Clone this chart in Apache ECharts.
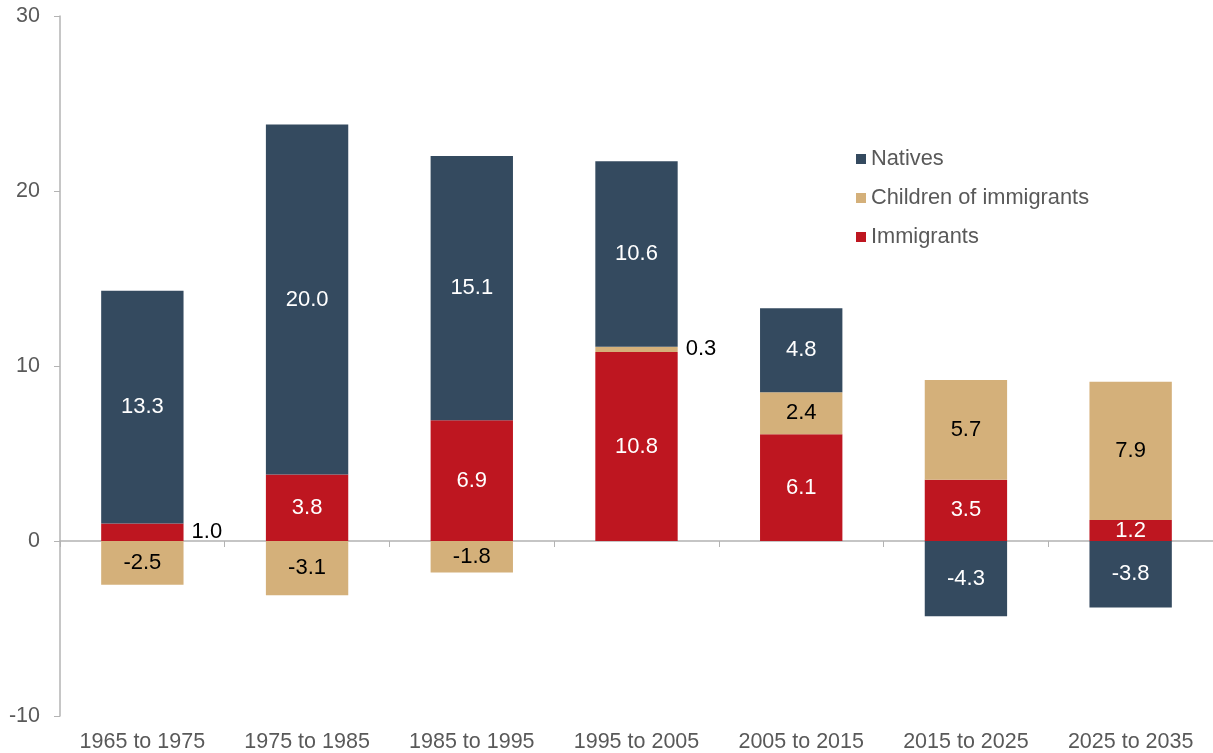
<!DOCTYPE html>
<html>
<head>
<meta charset="utf-8">
<script src="https://cdn.jsdelivr.net/npm/echarts@6/dist/echarts.min.js"></script>
<style>
  html, body { margin: 0; padding: 0; background: #fff; }
  #chart { width: 1213px; height: 753px; }
</style>
</head>
<body>
<div id="chart"></div>
<script>
var categories = ['1965 to 1975', '1975 to 1985', '1985 to 1995', '1995 to 2005', '2005 to 2015', '2015 to 2025', '2025 to 2035'];
var natives = [13.3, 20.0, 15.1, 10.6, 4.8, -4.3, -3.8];
var children = [-2.5, -3.1, -1.8, 0.3, 2.4, 5.7, 7.9];
var immigrants = [1.0, 3.8, 6.9, 10.8, 6.1, 3.5, 1.2];
var yTicks = [-10, 0, 10, 20, 30];

var font = 'Liberation Sans, Arial, sans-serif';
var axisGray = '#b3b3b3';
var textGray = '#595959';

// small segments get their label outside to the right
function withLabels(values, color) {
  return values.map(function (v) {
    if (Math.abs(v) < 1.1 && v !== 1.2) {
      return { value: v, label: { position: 'right', color: '#000', distance: 8 } };
    }
    return { value: v, label: { color: color } };
  });
}

function bar(name, values, fill, labelColor) {
  return {
    name: name,
    type: 'bar',
    stack: 'total',
    barWidth: '50%',
    itemStyle: { color: fill },
    label: {
      show: true,
      position: 'inside',
      fontFamily: font,
      fontSize: 22,
      formatter: function (p) { return p.value.toFixed(1); }
    },
    data: withLabels(values, labelColor)
  };
}

var chart = echarts.init(document.getElementById('chart'));
chart.setOption({
  animation: false,
  grid: { left: 60, top: 16, bottom: 36, width: 1163 },
  legend: {
    orient: 'vertical',
    left: 851,
    top: 143,
    icon: 'rect',
    itemWidth: 10,
    itemHeight: 10,
    itemGap: 17,
    textStyle: { fontFamily: font, fontSize: 21.8, color: textGray },
    data: ['Natives', 'Children of immigrants', 'Immigrants']
  },
  xAxis: {
    type: 'category',
    data: categories,
    axisLine: { onZero: true, lineStyle: { color: axisGray, width: 1.5 } },
    axisTick: { show: true, length: 6, lineStyle: { color: axisGray } },
    axisLabel: {
      fontFamily: font, fontSize: 21.5, color: textGray,
      interval: 0, margin: 15
    },
    position: 'bottom'
  },
  yAxis: {
    type: 'value',
    min: yTicks[0],
    max: yTicks[yTicks.length - 1],
    interval: 10,
    splitLine: { show: false },
    axisLine: { show: true, lineStyle: { color: axisGray, width: 1.5 } },
    axisTick: { show: true, length: 6, lineStyle: { color: axisGray } },
    axisLabel: { fontFamily: font, fontSize: 21.5, color: textGray, margin: 20 }
  },
  series: [
    bar('Immigrants', immigrants, '#be1620', '#fff'),
    bar('Children of immigrants', children, '#d4b07a', '#000'),
    bar('Natives', natives, '#344a5f', '#fff')
  ]
});
</script>
</body>
</html>
